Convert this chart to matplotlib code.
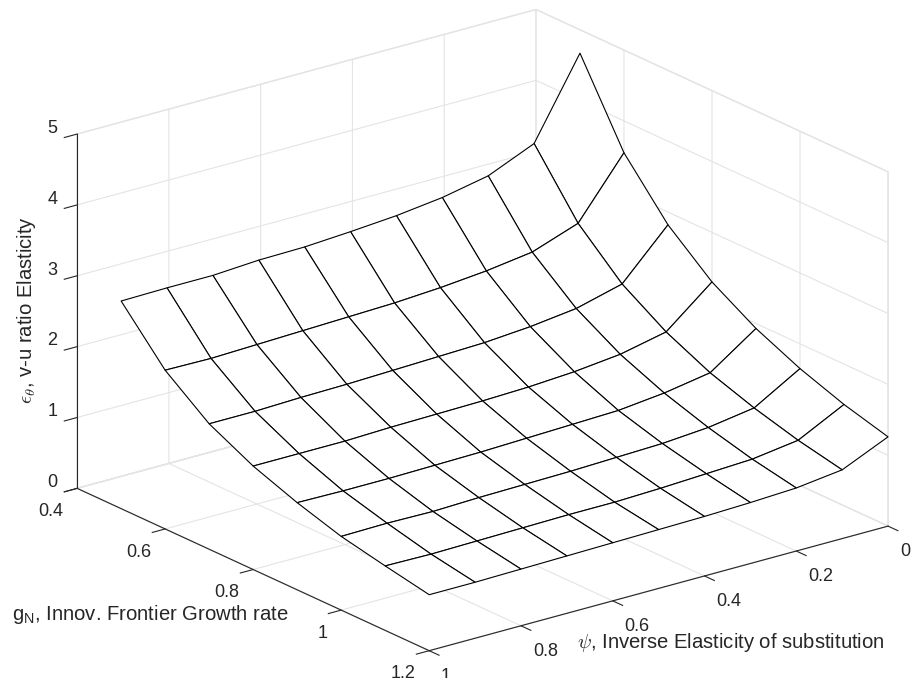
import numpy as np
import matplotlib
matplotlib.use("Agg")
import matplotlib.pyplot as plt

# ---------------- data ----------------
psi = [0.0, 0.1, 0.2, 0.3, 0.4, 0.5, 0.6, 0.7, 0.8, 0.9, 1.0]
g_N = [0.5, 0.6, 0.7, 0.8, 0.9, 1.0, 1.1, 1.2]
# rows: g_N, columns: psi
elasticity = [
    [4.67, 3.57, 3.29, 3.16, 3.08, 3.03, 2.99, 2.98, 2.94, 2.94, 2.93],
    [3.55, 2.73, 2.50, 2.41, 2.35, 2.31, 2.29, 2.27, 2.25, 2.23, 2.24],
    [2.82, 2.16, 1.99, 1.91, 1.86, 1.84, 1.82, 1.80, 1.79, 1.77, 1.77],
    [2.30, 1.77, 1.63, 1.56, 1.52, 1.50, 1.49, 1.48, 1.46, 1.46, 1.46],
    [1.93, 1.48, 1.37, 1.30, 1.28, 1.26, 1.24, 1.23, 1.22, 1.22, 1.23],
    [1.65, 1.27, 1.17, 1.12, 1.10, 1.08, 1.07, 1.06, 1.04, 1.05, 1.04],
    [1.43, 1.10, 1.01, 0.98, 0.95, 0.93, 0.93, 0.92, 0.91, 0.90, 0.91],
    [1.26, 0.97, 0.89, 0.86, 0.84, 0.83, 0.82, 0.81, 0.80, 0.79, 0.79],
]
psi_ticks = [0, 0.2, 0.4, 0.6, 0.8, 1.0]
psi_ticklabels = ["0", "0.2", "0.4", "0.6", "0.8", "1"]
g_ticks = [0.4, 0.6, 0.8, 1.0, 1.2]
g_ticklabels = ["0.4", "0.6", "0.8", "1", "1.2"]
z_ticks = [0, 1, 2, 3, 4, 5]
z_ticklabels = ["0", "1", "2", "3", "4", "5"]

xlabel = r"$\psi$, Inverse Elasticity of substitution"
ylabel = r"g$_\mathregular{N}$, Innov. Frontier Growth rate"
zlabel = r"$\epsilon_\theta$, v-u ratio Elasticity"

# ---------------- style ----------------
TXT = "#262626"
GRID = "#e4e4e4"
TICK_FS = 13
LABEL_FS = 14.6
plt.rcParams["font.family"] = ["Liberation Sans", "DejaVu Sans"]
plt.rcParams["font.size"] = TICK_FS
plt.rcParams["grid.color"] = GRID
plt.rcParams["grid.linewidth"] = 0.8
plt.rcParams["axes.linewidth"] = 0.8
plt.rcParams["axes.edgecolor"] = TXT
plt.rcParams["xtick.major.width"] = 0.8
plt.rcParams["ytick.major.width"] = 0.8

W, H = 912, 678
fig = plt.figure(figsize=(W / 100, H / 100), dpi=100)
ax = fig.add_axes([0.05, 0.05, 0.9, 0.9 * W / H], projection="3d", proj_type="ortho")
ax.view_init(elev=20.72, azim=52.5)
ax.set_box_aspect((1, 1.0, 0.655))
ax.set_xlim(0, 1)
ax.set_ylim(0.4, 1.2)
ax.set_zlim(0, 5)

X, Y = np.meshgrid(psi, g_N)
Z = np.array(elasticity)
ax.plot_surface(X, Y, Z, rstride=1, cstride=1, color="white",
                edgecolor="black", linewidth=0.8, shade=False, antialiased=True)

ax.set_xticks(psi_ticks, psi_ticklabels, ha="left")
ax.set_yticks(g_ticks, g_ticklabels, ha="right")
ax.set_zticks(z_ticks, z_ticklabels, va="baseline")
for axis in (ax.xaxis, ax.yaxis, ax.zaxis):
    axis.set_pane_color((1, 1, 1, 1))
    axis.pane.set_edgecolor(GRID)
    axis._axinfo["tick"]["outward_factor"] = 0.0
    axis._axinfo["tick"]["inward_factor"] = 0.35
    axis._axinfo["axisline"]["color"] = TXT
ax.tick_params(colors=TXT, labelcolor=TXT, pad=2)
ax.xaxis.set_tick_params(pad=3)

# ---------------- fit box to the reference layout ----------------
corners = [(1, 0.4, 0), (1, 1.2, 0), (0, 1.2, 0), (0, 0.4, 5), (1, 0.4, 5), (0, 1.2, 5)]
targets = np.array([(77, 488), (430, 651), (888, 526), (535.5, 9.5), (77, 134), (888, 172)], float)
targets[:, 1] = H - targets[:, 1]

def project(c):
    v = ax.M @ np.array([c[0], c[1], c[2], 1.0])
    return ax.transData.transform((v[0] / v[3], v[1] / v[3]))

for _ in range(4):
    fig.canvas.draw()
    P = np.array([project(c) for c in corners])
    bb = ax.get_position()
    x0, y0, w = bb.x0 * W, bb.y0 * H, bb.width * W
    pm, tm = P.mean(0), targets.mean(0)
    s = np.sum((targets - tm) * (P - pm)) / np.sum((P - pm) ** 2)
    nw = w * s
    nx0 = tm[0] - s * (pm[0] - x0)
    ny0 = tm[1] - s * (pm[1] - y0)
    ax.set_position([nx0 / W, ny0 / H, nw / W, nw / H])

# ---------------- axis labels ----------------
fig.text(731 / W, 1 - 642 / H, xlabel, ha="center", va="center", color=TXT,
         fontsize=LABEL_FS, math_fontfamily="cm")
fig.text(150 / W, 1 - 615 / H, ylabel, ha="center", va="center", color=TXT,
         fontsize=LABEL_FS)
fig.text(27 / W, 1 - 310 / H, zlabel, ha="center", va="center", color=TXT,
         fontsize=LABEL_FS, rotation=90, math_fontfamily="cm")

fig.savefig("out.png", dpi=100, facecolor="white")
